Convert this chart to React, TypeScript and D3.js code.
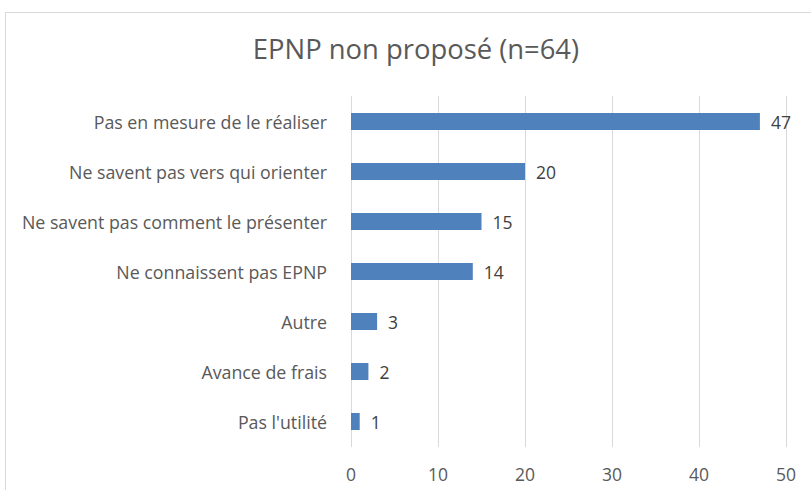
import React from "react";
import * as d3 from "d3";

const categories = [
  "Pas en mesure de le réaliser",
  "Ne savent pas vers qui orienter",
  "Ne savent pas comment le présenter",
  "Ne connaissent pas EPNP",
  "Autre",
  "Avance de frais",
  "Pas l'utilité",
];
const values = [47, 20, 15, 14, 3, 2, 1];
const xTicks = [0, 10, 20, 30, 40, 50];
const title = "EPNP non proposé (n=64)";

const W = 811;
const H = 490;
const FONT = "'Open Sans', 'DejaVu Sans', sans-serif";

export default function App() {
  const x = d3.scaleLinear().domain([0, 50]).range([351, 786]);
  const y = d3
    .scaleBand<string>()
    .domain(categories)
    .range([96.5, 446.5])
    .paddingInner(0.66)
    .paddingOuter(0.33);

  return (
    <svg
      width={W}
      height={H}
      style={{ position: "absolute", left: 0, top: 0, background: "#fff" }}
    >
      <rect x={5.5} y={12.5} width={W + 10} height={H + 10} fill="#fff" stroke="#d9d9d9" strokeWidth={1} />
      <text
        x={416}
        y={59}
        textAnchor="middle"
        fontFamily={FONT}
        fontSize={27.4}
        fill="#595959"
      >
        {title}
      </text>
      {xTicks.map((t) => (
        <g key={t}>
          <line
            x1={Math.round(x(t)) + 0.5}
            x2={Math.round(x(t)) + 0.5}
            y1={96}
            y2={447}
            stroke="#d9d9d9"
            strokeWidth={1}
          />
          <text
            x={x(t)}
            y={474}
            dy="0.4em"
            textAnchor="middle"
            fontFamily={FONT}
            fontSize={17.5}
            fill="#595959"
          >
            {t}
          </text>
        </g>
      ))}
      {categories.map((c, i) => {
        const yy = y(c)!;
        const bw = y.bandwidth();
        return (
          <g key={c}>
            <rect
              x={x(0)}
              y={yy}
              width={x(values[i]) - x(0)}
              height={bw}
              fill="#4f81bd"
            />
            <text
              x={327}
              y={yy + bw / 2}
              dy="0.42em"
              textAnchor="end"
              fontFamily={FONT}
              fontSize={17.8}
              fill="#595959"
            >
              {c}
            </text>
            <text
              x={x(values[i]) + 11}
              y={yy + bw / 2}
              dy="0.42em"
              textAnchor="start"
              fontFamily={FONT}
              fontSize={17.5}
              fill="#404040"
            >
              {values[i]}
            </text>
          </g>
        );
      })}
    </svg>
  );
}
